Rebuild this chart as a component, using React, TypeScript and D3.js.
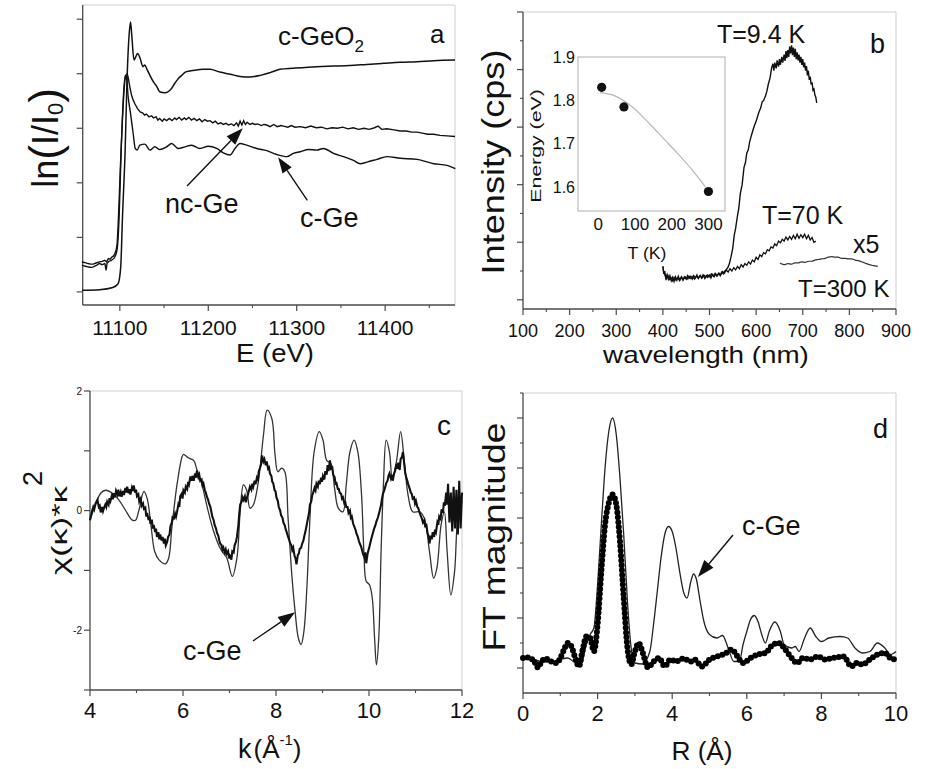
import React from 'react';
import * as d3 from 'd3';

const FONT = "'Liberation Sans', Arial, Helvetica, sans-serif";

// ---------------- Panel a: XANES ----------------
const aXMajor = [11100, 11200, 11300, 11400];
const aXMinor = [11150, 11250, 11350, 11450];
const aXLabels = ['11100', '11200', '11300', '11400'];
const aYMajor = [0, 1, 2, 3, 4, 5];

const geo2Xanes: [number, number][] = [
  [11057.3, 0.03], [11077, 0.04], [11092, 0.08], [11098, 0.15], [11101, 0.46], [11103, 1.38], [11106, 2.6],
  [11108, 3.82], [11110.6, 4.74], [11112.1, 4.95], [11113.6, 4.68], [11116, 4.25], [11118, 4.31], [11120, 4.37],
  [11123, 4.28], [11126, 4.13], [11128, 4.16], [11131, 4.07], [11134, 3.97], [11138, 3.85], [11142, 3.76],
  [11145, 3.67], [11151, 3.65], [11157, 3.7], [11162, 3.82], [11166, 3.91], [11170, 3.97], [11174, 4.03],
  [11179, 4.05], [11187, 4.07], [11194, 4.08], [11202, 4.08], [11213, 4.03], [11225, 3.99], [11236, 3.95],
  [11247, 3.94], [11259, 3.97], [11270, 4.02], [11281, 4.08], [11296, 4.1], [11323, 4.13], [11342, 4.14],
  [11360, 4.15], [11379, 4.17], [11398, 4.19], [11417, 4.21], [11436, 4.22], [11455, 4.24], [11479, 4.25],
];

const ncGeXanes: [number, number][] = [
  [11057, 0.55], [11060, 0.54], [11064, 0.52], [11067, 0.51], [11070, 0.51], [11073, 0.53], [11077, 0.55],
  [11080, 0.56], [11083, 0.58], [11085, 0.55], [11087, 0.61], [11089, 0.6], [11091, 0.64], [11093, 0.66],
  [11094.3, 0.7], [11096, 0.78], [11097, 0.89], [11098, 1.2], [11099.2, 1.68], [11100.5, 2.25], [11101.9, 2.78],
  [11103.2, 3.25], [11104.5, 3.64], [11105.7, 3.88], [11106.8, 3.97], [11108.3, 4.0], [11109.5, 3.93],
  [11110.6, 3.82], [11112, 3.7], [11113.2, 3.61], [11115, 3.52], [11117, 3.45], [11120, 3.36], [11123, 3.3],
  [11126, 3.28], [11128, 3.24], [11130, 3.26], [11133, 3.21], [11136, 3.23], [11138, 3.19], [11141, 3.21],
  [11143, 3.15], [11145, 3.18], [11148, 3.13], [11150, 3.17], [11153, 3.14], [11156, 3.18], [11159, 3.14],
  [11162, 3.19], [11164, 3.16], [11167, 3.2], [11170, 3.15], [11173, 3.19], [11175, 3.16], [11178, 3.2],
  [11181, 3.15], [11184, 3.18], [11187, 3.14], [11190, 3.17], [11193, 3.12], [11196, 3.16], [11199, 3.13],
  [11202, 3.14], [11205, 3.1], [11208, 3.13], [11211, 3.08], [11214, 3.1], [11217, 3.07], [11220, 3.09],
  [11223, 3.06], [11226, 3.08], [11229, 3.05], [11232, 3.1], [11234, 3.04], [11236, 3.13], [11238, 3.06],
  [11240, 3.14], [11242, 3.07], [11244, 3.11], [11247, 3.07], [11250, 3.09], [11253, 3.07], [11256, 3.08],
  [11260, 3.05], [11263, 3.07], [11266, 3.06], [11270, 3.03], [11274, 3.07], [11278, 3.03], [11282, 3.05],
  [11285, 3.04], [11290, 3.02], [11294, 3.05], [11298, 3.02], [11304, 3.03], [11310, 3.01], [11316, 3.04],
  [11322, 3.01], [11328, 3.02], [11334, 2.99], [11340, 3.01], [11346, 3.0], [11352, 3.02], [11358, 2.99],
  [11364, 3.01], [11370, 2.98], [11376, 3.0], [11382, 2.98], [11388, 3.01], [11392, 3.04], [11396, 2.98],
  [11402, 2.99], [11410, 2.97], [11417, 2.95], [11424, 2.95], [11430, 2.93], [11436, 2.93], [11442, 2.91],
  [11448, 2.89], [11455, 2.89], [11462, 2.87], [11470, 2.86], [11479, 2.85],
];

const cGeXanes: [number, number][] = [
  [11057, 0.49], [11061, 0.47], [11064, 0.46], [11067, 0.45], [11070, 0.46], [11074, 0.49], [11077, 0.52],
  [11080, 0.5], [11083, 0.52], [11084.5, 0.4], [11085.5, 0.52], [11087, 0.55], [11090.6, 0.58], [11094.3, 0.64],
  [11097, 0.79], [11099.2, 1.38], [11101.5, 2.6], [11103.8, 3.51], [11106, 3.97], [11107.5, 3.94],
  [11109.4, 3.58], [11112.1, 3.27], [11115.1, 2.9], [11117.4, 2.63], [11119.6, 2.6], [11122.6, 2.69],
  [11128.3, 2.71], [11134, 2.6], [11139.6, 2.66], [11145.3, 2.61], [11152.9, 2.66], [11158.5, 2.72],
  [11166.1, 2.63], [11173.6, 2.66], [11181.2, 2.69], [11190.6, 2.63], [11200, 2.67], [11209.5, 2.63],
  [11217, 2.55], [11224.6, 2.51], [11230.2, 2.63], [11235.9, 2.72], [11243.5, 2.69], [11254.8, 2.63],
  [11266.1, 2.59], [11277.4, 2.52], [11288.8, 2.48], [11296.3, 2.54], [11303.9, 2.57], [11313.3, 2.61],
  [11322.7, 2.6], [11330.3, 2.63], [11341.6, 2.54], [11352.9, 2.48], [11364.2, 2.41], [11371.8, 2.35],
  [11379.4, 2.38], [11390.7, 2.43], [11402, 2.48], [11417.1, 2.45], [11436, 2.43], [11454.9, 2.35],
  [11470, 2.32], [11479.4, 2.26],
];

// ---------------- Panel b: PL ----------------
const bXMajor = [100, 200, 300, 400, 500, 600, 700, 800, 900];
const bXMinor = [150, 250, 350, 450, 550, 650, 750, 850];
const bYMajor = [0, 1, 2, 3, 4, 5];
const bYMinor = [0.5, 1.5, 2.5, 3.5, 4.5];

const pl9K: [number, number][] = [
  [400, 0.58], [402, 0.45], [404, 0.5], [406, 0.38], [409, 0.44], [412, 0.36], [415, 0.42], [418, 0.33],
  [421, 0.39], [424, 0.32], [427, 0.4], [430, 0.34], [433, 0.41], [436, 0.35], [440, 0.4], [443, 0.34],
  [446, 0.4], [450, 0.36], [453, 0.42], [456, 0.37], [460, 0.41], [463, 0.36], [466, 0.42], [470, 0.38],
  [473, 0.43], [476, 0.37], [480, 0.42], [483, 0.38], [486, 0.43], [490, 0.37], [493, 0.42], [496, 0.39],
  [500, 0.43], [503, 0.38], [506, 0.44], [510, 0.4], [513, 0.45], [516, 0.41], [520, 0.46], [523, 0.42],
  [526, 0.48], [530, 0.45], [533, 0.5], [536, 0.52], [540, 0.57], [543, 0.64], [546, 0.74], [550, 0.9],
  [553, 1.12], [556, 1.24], [560, 1.46], [563, 1.6], [566, 1.84], [570, 2.0], [574, 2.3], [577, 2.38],
  [580, 2.55], [583, 2.6], [586, 2.74], [590, 2.86], [593, 2.94], [596, 3.02], [600, 3.1], [603, 3.18],
  [606, 3.26], [610, 3.34], [613, 3.44], [616, 3.46], [620, 3.54], [623, 3.62], [626, 3.74], [630, 3.86],
  [633, 4.02], [636, 4.1], [638, 3.98], [640, 4.12], [643, 4.02], [645, 4.16], [648, 4.05], [650, 4.18],
  [652, 4.08], [655, 4.22], [657, 4.12], [660, 4.26], [662, 4.15], [664, 4.32], [666, 4.2], [668, 4.34],
  [670, 4.22], [672, 4.4], [674, 4.28], [676, 4.42], [678, 4.25], [680, 4.38], [682, 4.22], [684, 4.36],
  [686, 4.18], [688, 4.3], [690, 4.16], [692, 4.26], [694, 4.12], [696, 4.22], [698, 4.08], [700, 4.18],
  [702, 4.04], [704, 4.12], [706, 3.98], [708, 4.06], [710, 3.9], [712, 3.98], [714, 3.82], [716, 3.88],
  [718, 3.74], [720, 3.78], [722, 3.64], [724, 3.66], [726, 3.56], [728, 3.52], [730, 3.42],
];

const pl70K: [number, number][] = [
  [400, 0.58], [402, 0.47], [405, 0.42], [408, 0.36], [411, 0.42], [414, 0.35], [418, 0.38], [421, 0.33],
  [424, 0.39], [428, 0.34], [432, 0.38], [436, 0.33], [440, 0.39], [444, 0.35], [448, 0.4], [452, 0.36],
  [456, 0.41], [460, 0.37], [464, 0.4], [468, 0.36], [472, 0.41], [476, 0.38], [480, 0.42], [484, 0.38],
  [488, 0.43], [492, 0.39], [496, 0.43], [500, 0.4], [504, 0.45], [508, 0.41], [512, 0.46], [516, 0.42],
  [520, 0.46], [524, 0.43], [528, 0.49], [532, 0.46], [536, 0.52], [540, 0.48], [544, 0.54], [548, 0.5],
  [552, 0.56], [556, 0.52], [560, 0.58], [564, 0.54], [568, 0.61], [572, 0.57], [576, 0.63], [580, 0.6],
  [584, 0.66], [588, 0.62], [592, 0.69], [596, 0.66], [600, 0.74], [604, 0.7], [608, 0.78], [612, 0.75],
  [616, 0.82], [620, 0.8], [624, 0.87], [628, 0.85], [632, 0.92], [636, 0.9], [640, 0.97], [644, 0.94],
  [648, 1.02], [652, 0.99], [656, 1.05], [660, 1.02], [664, 1.09], [668, 1.04], [672, 1.1], [676, 1.05],
  [680, 1.12], [684, 1.06], [688, 1.14], [692, 1.07], [696, 1.13], [700, 1.08], [704, 1.14], [708, 1.06],
  [712, 1.12], [716, 1.04], [720, 1.08], [724, 1.0], [728, 1.02],
];

const pl300K: [number, number][] = [
  [651, 0.64], [656, 0.62], [662, 0.61], [668, 0.63], [676, 0.62], [683, 0.64], [690, 0.64], [697, 0.66],
  [705, 0.65], [712, 0.67], [719, 0.67], [726, 0.69], [733, 0.7], [740, 0.71], [748, 0.72], [755, 0.74],
  [762, 0.75], [769, 0.74], [776, 0.74], [783, 0.72], [791, 0.72], [798, 0.71], [805, 0.71], [812, 0.69],
  [819, 0.68], [826, 0.66], [833, 0.64], [840, 0.62], [848, 0.6], [855, 0.59], [861, 0.58],
];

// inset: PL peak energy vs T
const insetT = [9.4, 70, 300];
const insetE = [1.83, 1.785, 1.59];
const fitT = [5, 40, 82, 141, 180, 218, 260, 292];
const fitE = [1.818, 1.812, 1.792, 1.745, 1.71, 1.676, 1.635, 1.6];
const insetXTicks = [0, 100, 200, 300];
const insetYTicks = [1.6, 1.7, 1.8, 1.9];

// ---------------- Panel c: EXAFS chi(k)k^2 ----------------
const cXMajor = [4, 6, 8, 10, 12];
const cXMinor = [5, 7, 9, 11];
const cYTicks = [-3, -2, -1, 0, 1, 2];
const cYLabels: [number, string][] = [[2, '2'], [0, '0'], [-2, '-2']];

const chiCGe: [number, number][] = [
  [4.0, -0.16], [4.09, 0.04], [4.23, 0.29], [4.34, 0.34], [4.48, 0.29], [4.62, 0.18], [4.76, 0.01], [4.91, -0.16],
  [4.98, -0.16], [5.05, 0.0], [5.16, 0.32], [5.23, 0.2], [5.31, -0.24], [5.39, -0.68], [5.48, -0.82], [5.62, -0.89],
  [5.69, -0.8], [5.76, -0.29], [5.87, 0.43], [5.98, 0.9], [6.01, 0.94], [6.12, 0.88], [6.23, 0.84], [6.3, 0.68],
  [6.41, 0.43], [6.51, 0.09], [6.66, -0.35], [6.8, -0.63], [6.94, -0.79], [7.06, -1.1], [7.16, -0.79], [7.23, -0.02],
  [7.3, 0.43], [7.37, 0.34], [7.44, 0.04], [7.51, 0.09], [7.62, 0.48], [7.73, 1.26], [7.81, 1.68], [7.91, 1.54],
  [7.98, 0.93], [8.04, 0.65], [8.12, 0.71], [8.19, 0.65], [8.26, -0.13], [8.34, -1.07], [8.41, -1.68], [8.48, -2.13],
  [8.54, -2.24], [8.6, -2.02], [8.66, -1.35], [8.73, -0.13], [8.82, 0.98], [8.93, 1.32], [9.01, 1.18], [9.09, 0.84],
  [9.18, 0.79], [9.26, 0.37], [9.34, 0.04], [9.44, -0.02], [9.51, 0.43], [9.59, 0.98], [9.68, 1.18], [9.76, 0.98],
  [9.84, 0.26], [9.89, -0.68], [9.94, -1.18], [10.01, -1.24], [10.07, -1.46], [10.12, -2.13], [10.16, -2.58],
  [10.21, -2.13], [10.26, -0.68], [10.31, 0.43], [10.37, 1.18], [10.44, 0.98], [10.5, 0.54], [10.59, 0.82],
  [10.68, 1.32], [10.76, 0.82], [10.84, 0.26], [10.94, -0.02], [11.09, -0.02], [11.19, -0.13], [11.3, -0.68],
  [11.39, -1.13], [11.46, -0.96], [11.55, -0.24], [11.62, -0.02], [11.68, -0.68], [11.76, -1.41], [11.84, -1.02],
  [11.91, -0.13], [12.0, 0.15],
];

const chiNcGe: [number, number][] = [
  [4.0, -0.16], [4.04, -0.02], [4.07, 0.06], [4.09, 0.02], [4.12, 0.12], [4.16, 0.18], [4.19, 0.06], [4.21, 0.08],
  [4.23, -0.03], [4.26, 0.06], [4.28, -0.01], [4.3, 0.04], [4.33, 0.1], [4.35, 0.06], [4.37, 0.15], [4.4, 0.1],
  [4.42, 0.21], [4.44, 0.16], [4.47, 0.25], [4.49, 0.19], [4.51, 0.29], [4.54, 0.22], [4.56, 0.33], [4.59, 0.27],
  [4.61, 0.35], [4.63, 0.24], [4.66, 0.31], [4.68, 0.23], [4.71, 0.33], [4.73, 0.26], [4.76, 0.38], [4.78, 0.3],
  [4.8, 0.4], [4.83, 0.29], [4.85, 0.36], [4.87, 0.27], [4.9, 0.38], [4.92, 0.33], [4.94, 0.42], [4.97, 0.3],
  [4.99, 0.35], [5.01, 0.24], [5.04, 0.27], [5.06, 0.15], [5.09, 0.2], [5.11, 0.08], [5.14, 0.12], [5.16, 0.03],
  [5.19, 0.05], [5.21, -0.1], [5.23, -0.04], [5.26, -0.16], [5.28, -0.1], [5.3, -0.22], [5.33, -0.15], [5.35, -0.3],
  [5.37, -0.24], [5.4, -0.36], [5.42, -0.3], [5.44, -0.44], [5.47, -0.36], [5.49, -0.48], [5.51, -0.4], [5.54, -0.5],
  [5.56, -0.44], [5.59, -0.55], [5.61, -0.47], [5.63, -0.58], [5.66, -0.52], [5.68, -0.44], [5.71, -0.4],
  [5.73, -0.26], [5.76, -0.2], [5.78, -0.09], [5.8, -0.15], [5.83, -0.05], [5.85, -0.1], [5.87, -0.03], [5.9, 0.1],
  [5.92, 0.06], [5.94, 0.24], [5.97, 0.28], [5.99, 0.2], [6.01, 0.34], [6.04, 0.3], [6.06, 0.4], [6.09, 0.36],
  [6.11, 0.48], [6.13, 0.44], [6.16, 0.57], [6.18, 0.5], [6.21, 0.58], [6.23, 0.5], [6.26, 0.62], [6.28, 0.55],
  [6.3, 0.67], [6.33, 0.56], [6.35, 0.6], [6.37, 0.5], [6.4, 0.52], [6.42, 0.42], [6.44, 0.45], [6.47, 0.34],
  [6.49, 0.3], [6.51, 0.24], [6.54, 0.18], [6.56, 0.12], [6.59, 0.06], [6.61, -0.02], [6.63, -0.1], [6.66, -0.16],
  [6.68, -0.24], [6.71, -0.3], [6.73, -0.37], [6.76, -0.42], [6.78, -0.5], [6.8, -0.55], [6.83, -0.58],
  [6.85, -0.66], [6.87, -0.62], [6.9, -0.7], [6.92, -0.65], [6.94, -0.72], [6.97, -0.68], [6.99, -0.8],
  [7.01, -0.76], [7.04, -0.82], [7.06, -0.68], [7.09, -0.7], [7.11, -0.58], [7.14, -0.52], [7.16, -0.44],
  [7.19, -0.25], [7.21, -0.05], [7.23, 0.1], [7.26, 0.15], [7.28, 0.22], [7.3, 0.18], [7.33, 0.24], [7.35, 0.14],
  [7.37, 0.2], [7.4, 0.28], [7.42, 0.34], [7.44, 0.4], [7.47, 0.35], [7.49, 0.45], [7.51, 0.4], [7.54, 0.5],
  [7.56, 0.44], [7.59, 0.55], [7.61, 0.52], [7.63, 0.66], [7.66, 0.72], [7.68, 0.78], [7.7, 0.92], [7.73, 0.82],
  [7.75, 0.86], [7.78, 0.76], [7.8, 0.82], [7.83, 0.7], [7.85, 0.72], [7.87, 0.62], [7.9, 0.58], [7.92, 0.48],
  [7.94, 0.46], [7.97, 0.34], [7.99, 0.32], [8.01, 0.22], [8.04, 0.16], [8.06, 0.06], [8.09, 0.0], [8.11, -0.08],
  [8.14, -0.12], [8.16, -0.2], [8.19, -0.25], [8.21, -0.32], [8.23, -0.36], [8.26, -0.44], [8.28, -0.48],
  [8.3, -0.54], [8.33, -0.58], [8.35, -0.66], [8.37, -0.62], [8.4, -0.76], [8.42, -0.8], [8.44, -0.9],
  [8.47, -0.74], [8.49, -0.72], [8.51, -0.64], [8.54, -0.62], [8.56, -0.56], [8.59, -0.5], [8.61, -0.42],
  [8.63, -0.36], [8.66, -0.24], [8.68, -0.16], [8.71, -0.04], [8.73, 0.1], [8.76, 0.16], [8.78, 0.26], [8.8, 0.3],
  [8.83, 0.38], [8.85, 0.34], [8.87, 0.45], [8.9, 0.4], [8.92, 0.5], [8.94, 0.44], [8.97, 0.55], [8.99, 0.48],
  [9.01, 0.58], [9.04, 0.52], [9.06, 0.66], [9.09, 0.6], [9.11, 0.76], [9.13, 0.66], [9.16, 0.84], [9.18, 0.7],
  [9.21, 0.72], [9.23, 0.6], [9.26, 0.56], [9.28, 0.45], [9.3, 0.46], [9.33, 0.36], [9.35, 0.36], [9.37, 0.3],
  [9.4, 0.28], [9.42, 0.2], [9.44, 0.22], [9.47, 0.12], [9.49, 0.14], [9.51, 0.06], [9.54, 0.06], [9.56, -0.04],
  [9.59, 0.0], [9.61, -0.12], [9.63, -0.1], [9.66, -0.22], [9.68, -0.26], [9.71, -0.32], [9.73, -0.38],
  [9.76, -0.44], [9.78, -0.5], [9.8, -0.55], [9.83, -0.6], [9.85, -0.66], [9.87, -0.72], [9.9, -0.78], [9.92, -0.7],
  [9.94, -0.88], [9.97, -0.72], [9.99, -0.66], [10.01, -0.6], [10.04, -0.5], [10.06, -0.44], [10.09, -0.36],
  [10.11, -0.3], [10.14, -0.24], [10.16, -0.18], [10.19, -0.12], [10.21, -0.06], [10.23, 0.0], [10.26, 0.1],
  [10.28, 0.2], [10.3, 0.28], [10.33, 0.34], [10.35, 0.4], [10.37, 0.46], [10.4, 0.5], [10.42, 0.58], [10.44, 0.62],
  [10.47, 0.54], [10.49, 0.6], [10.51, 0.5], [10.54, 0.62], [10.56, 0.66], [10.59, 0.78], [10.61, 0.7], [10.63, 0.8],
  [10.66, 0.68], [10.68, 0.86], [10.71, 0.9], [10.73, 0.98], [10.76, 0.76], [10.78, 0.62], [10.8, 0.56],
  [10.83, 0.48], [10.85, 0.42], [10.87, 0.38], [10.9, 0.3], [10.92, 0.28], [10.94, 0.2], [10.97, 0.22], [10.99, 0.12],
  [11.01, 0.16], [11.04, 0.06], [11.06, 0.04], [11.09, -0.04], [11.11, -0.08], [11.14, -0.14], [11.16, -0.2],
  [11.19, -0.16], [11.21, -0.28], [11.23, -0.22], [11.26, -0.38], [11.28, -0.42], [11.3, -0.55], [11.33, -0.42],
  [11.35, -0.48], [11.37, -0.36], [11.4, -0.44], [11.42, -0.32], [11.44, -0.36], [11.47, -0.2], [11.49, -0.24],
  [11.51, -0.1], [11.54, -0.14], [11.56, 0.02], [11.59, -0.04], [11.61, 0.14], [11.63, 0.08], [11.66, 0.3],
  [11.68, 0.1], [11.7, 0.45], [11.73, -0.2], [11.76, 0.3], [11.79, -0.35], [11.82, 0.4], [11.85, -0.3], [11.88, 0.35],
  [11.91, -0.4], [11.94, 0.5], [11.97, -0.3], [12.0, 0.3],
];

// ---------------- Panel d: FT magnitude ----------------
const dXMajor = [0, 2, 4, 6, 8, 10];
const dXMinor = [1, 3, 5, 7, 9];
const dYMajor = [0, 1, 2, 3, 4, 5];
const dYMinor = [0.5, 1.5, 2.5, 3.5, 4.5, 5.5];

const ftCGe: [number, number][] = [
  [0, 0.2], [0.3, 0.17], [0.5, 0.13], [0.8, 0.12], [1.0, 0.17], [1.2, 0.2], [1.4, 0.1], [1.55, 0.07], [1.7, 0.47],
  [1.8, 0.67], [1.9, 0.8], [2.0, 1.67], [2.1, 2.87], [2.2, 4.0], [2.3, 4.73], [2.4, 5.0], [2.5, 4.67], [2.6, 3.8],
  [2.7, 2.67], [2.8, 1.33], [2.9, 0.4], [3.0, 0.1], [3.2, 0.08], [3.4, 0.33], [3.5, 0.87], [3.6, 1.53], [3.7, 2.2],
  [3.8, 2.67], [3.9, 2.83], [4.0, 2.73], [4.1, 2.4], [4.2, 1.93], [4.3, 1.53], [4.4, 1.4], [4.5, 1.73], [4.57, 1.88],
  [4.65, 1.77], [4.75, 1.33], [4.85, 0.93], [5.0, 0.67], [5.2, 0.6], [5.35, 0.65], [5.5, 0.4], [5.65, 0.13],
  [5.8, 0.13], [5.9, 0.47], [6.0, 0.73], [6.1, 0.97], [6.2, 1.05], [6.3, 0.93], [6.4, 0.67], [6.5, 0.5], [6.6, 0.73],
  [6.75, 0.92], [6.9, 0.73], [7.0, 0.47], [7.2, 0.4], [7.3, 0.43], [7.4, 0.33], [7.55, 0.6], [7.7, 0.8], [7.85, 0.63],
  [8.0, 0.53], [8.2, 0.6], [8.5, 0.63], [8.7, 0.6], [8.9, 0.4], [9.1, 0.3], [9.3, 0.33], [9.5, 0.5], [9.7, 0.4],
  [9.85, 0.27], [10.0, 0.33],
];

const ftNcGe: [number, number][] = [
  [0, 0.2], [0.15, 0.21], [0.3, 0.13], [0.4, 0.01], [0.5, 0.13], [0.6, 0.19], [0.75, 0.13], [0.9, 0.1], [1.0, 0.2],
  [1.1, 0.37], [1.2, 0.5], [1.3, 0.43], [1.4, 0.2], [1.5, 0.03], [1.6, 0.37], [1.7, 0.63], [1.8, 0.6], [1.9, 0.33],
  [2.0, 0.87], [2.1, 1.93], [2.2, 2.87], [2.3, 3.3], [2.4, 3.47], [2.5, 3.27], [2.6, 2.53], [2.7, 1.4], [2.8, 0.4],
  [2.9, 0.07], [3.0, 0.33], [3.1, 0.5], [3.2, 0.33], [3.35, 0.01], [3.5, 0.13], [3.65, 0.2], [3.8, 0.03],
  [3.95, 0.17], [4.1, 0.13], [4.3, 0.19], [4.5, 0.13], [4.6, 0.17], [4.8, 0.03], [5.0, 0.17], [5.2, 0.23],
  [5.4, 0.28], [5.6, 0.37], [5.75, 0.23], [5.9, 0.1], [6.1, 0.2], [6.3, 0.27], [6.5, 0.3], [6.7, 0.47], [6.85, 0.5],
  [7.0, 0.4], [7.2, 0.2], [7.35, 0.1], [7.5, 0.2], [7.7, 0.17], [7.9, 0.23], [8.1, 0.17], [8.3, 0.2], [8.6, 0.23],
  [8.8, 0.03], [8.95, 0.1], [9.1, 0.07], [9.3, 0.17], [9.5, 0.27], [9.7, 0.3], [9.85, 0.2], [10.0, 0.17],
];

// ---------------- helpers ----------------
type TP = {
  x: number; y: number; size: number; anchor?: 'start' | 'middle' | 'end';
  sx?: number; rot?: number; children?: React.ReactNode; fill?: string;
};
function T({ x, y, size, anchor = 'start', sx = 1, rot = 0, children, fill = '#111' }: TP) {
  return (
    <text
      transform={`translate(${x},${y}) rotate(${rot}) scale(${sx},1)`}
      fontSize={size}
      textAnchor={anchor}
      fontFamily={FONT}
      fill={fill}
    >
      {children}
    </text>
  );
}

type Lin = d3.ScaleLinear<number, number>;

function Axes(props: {
  xs: Lin; ys: Lin;
  xMajor: number[]; xMinor?: number[]; yMajor: number[]; yMinor?: number[];
  xLabels?: [number, string][]; xFont?: number; xLabelY?: number; xSx?: number;
  yLabels?: [number, string][]; yFont?: number; yLabelX?: number;
  majorLen?: number; minorLen?: number;
}) {
  const { xs, ys, xMajor, xMinor = [], yMajor, yMinor = [], xLabels = [], yLabels = [] } = props;
  const ml = props.majorLen ?? 6;
  const nl = props.minorLen ?? 3;
  const [x0, x1] = xs.range();
  const [y0, y1] = ys.range();
  const ax = '#4a4a4a';
  return (
    <g>
      <line x1={x0} y1={y1} x2={x1} y2={y1} stroke="#cfcfcf" strokeWidth={1} />
      <line x1={x1} y1={y1} x2={x1} y2={y0} stroke="#cfcfcf" strokeWidth={1} />
      <line x1={x0} y1={y0} x2={x0} y2={y1} stroke={ax} strokeWidth={1.3} />
      <line x1={x0} y1={y0} x2={x1} y2={y0} stroke={ax} strokeWidth={1.3} />
      {xMajor.map((v) => (
        <line key={'xm' + v} x1={xs(v)} x2={xs(v)} y1={y0} y2={y0 + ml} stroke={ax} strokeWidth={1.2} />
      ))}
      {xMinor.map((v) => (
        <line key={'xn' + v} x1={xs(v)} x2={xs(v)} y1={y0} y2={y0 + nl} stroke={ax} strokeWidth={1.1} />
      ))}
      {yMajor.map((v) => (
        <line key={'ym' + v} x1={x0 - ml} x2={x0} y1={ys(v)} y2={ys(v)} stroke={ax} strokeWidth={1.2} />
      ))}
      {yMinor.map((v) => (
        <line key={'yn' + v} x1={x0 - nl} x2={x0} y1={ys(v)} y2={ys(v)} stroke={ax} strokeWidth={1.1} />
      ))}
      {xLabels.map(([v, s]) => (
        <T key={'xl' + v} x={xs(v)} y={props.xLabelY ?? y0 + 26} size={props.xFont ?? 20} anchor="middle" sx={props.xSx ?? 1}>
          {s}
        </T>
      ))}
      {yLabels.map(([v, s]) => (
        <T key={'yl' + v} x={props.yLabelX ?? x0 - 8} y={ys(v) + (props.yFont ?? 10) * 0.36} size={props.yFont ?? 10} anchor="end">
          {s}
        </T>
      ))}
    </g>
  );
}

function Arrow({ from, to, len = 16, width = 11 }: { from: [number, number]; to: [number, number]; len?: number; width?: number }) {
  const [fx, fy] = from;
  const [tx, ty] = to;
  const dx = tx - fx;
  const dy = ty - fy;
  const d = Math.hypot(dx, dy);
  const ux = dx / d;
  const uy = dy / d;
  const bx = tx - ux * len;
  const by = ty - uy * len;
  const px = -uy * width / 2;
  const py = ux * width / 2;
  return (
    <g>
      <line x1={fx} y1={fy} x2={bx} y2={by} stroke="#111" strokeWidth={1.4} />
      <polygon points={`${tx},${ty} ${bx + px},${by + py} ${bx - px},${by - py}`} fill="#111" />
    </g>
  );
}

function pathOf(data: [number, number][], xs: Lin, ys: Lin, curve: d3.CurveFactory = d3.curveLinear) {
  return d3.line<[number, number]>().x((d) => xs(d[0])).y((d) => ys(d[1])).curve(curve)(data) || '';
}

export default function App() {
  // panel a scales
  const axs = d3.scaleLinear().domain([11058, 11479]).range([82.7, 455]);
  const ays = d3.scaleLinear().domain([-0.24, 5.26]).range([305, 5]);
  // panel b
  const bxs = d3.scaleLinear().domain([100, 900]).range([523, 896]);
  const bys = d3.scaleLinear().domain([-0.16, 5]).range([309, 12]);
  const ixs = d3.scaleLinear().domain([-55, 345]).range([578, 725]);
  const iys = d3.scaleLinear().domain([1.545, 1.9]).range([211, 57]);
  // panel c
  const cxs = d3.scaleLinear().domain([4, 12]).range([90, 462]);
  const cys = d3.scaleLinear().domain([-3, 2]).range([690, 391]);
  // panel d
  const dxs = d3.scaleLinear().domain([0, 10]).range([523, 896]);
  const dys = d3.scaleLinear().domain([-0.5, 5.5]).range([693, 393]);

  const mono = d3.curveMonotoneX;
  const cr = d3.curveCatmullRom.alpha(0.5);

  const fitData: [number, number][] = fitT.map((t, i) => [t, fitE[i]]);

  return (
    <svg width={930} height={769} style={{ position: 'absolute', left: 0, top: 0, background: '#fff' }}>
      <rect x={0} y={0} width={930} height={769} fill="#fff" />

      {/* ---------- Panel a ---------- */}
      <Axes
        xs={axs} ys={ays}
        xMajor={aXMajor} xMinor={aXMinor} yMajor={aYMajor}
        xLabels={aXMajor.map((v, i) => [v, aXLabels[i]] as [number, string])}
        xFont={21} xLabelY={335}
        majorLen={6} minorLen={3}
      />
      <path d={pathOf(geo2Xanes, axs, ays, mono)} fill="none" stroke="#111" strokeWidth={1.5} />
      <path d={pathOf(ncGeXanes, axs, ays, d3.curveLinear)} fill="none" stroke="#111" strokeWidth={1.4} />
      <path d={pathOf(cGeXanes, axs, ays, mono)} fill="none" stroke="#111" strokeWidth={1.4} />
      <T x={278} y={45} size={26}>
        c-GeO<tspan fontSize={17} dy={7}>2</tspan>
      </T>
      <T x={430} y={43} size={26}>a</T>
      <T x={165} y={213} size={27}>nc-Ge</T>
      <T x={300} y={227} size={27}>c-Ge</T>
      <Arrow from={[axs(11176), ays(1.94)]} to={[axs(11239), ays(3.0)]} len={17} width={12} />
      <Arrow from={[axs(11312), ays(1.68)]} to={[axs(11279), ays(2.47)]} len={16} width={11} />
      <T x={275} y={362} size={25} anchor="middle" sx={1.1}>E (eV)</T>
      <T x={58} y={138} size={36} anchor="middle" rot={-90}>
        ln<tspan fontSize={44} dy={2}>(</tspan><tspan fontSize={36} dy={-2}>I/I</tspan>
        <tspan fontSize={22} dy={5}>0</tspan><tspan fontSize={44} dy={-3}>)</tspan>
      </T>

      {/* ---------- Panel b ---------- */}
      <Axes
        xs={bxs} ys={bys}
        xMajor={bXMajor} xMinor={bXMinor} yMajor={bYMajor} yMinor={bYMinor}
        xLabels={bXMajor.map((v) => [v, String(v)] as [number, string])}
        xFont={18} xLabelY={337}
        majorLen={6} minorLen={3}
      />
      <path d={pathOf(pl9K, bxs, bys)} fill="none" stroke="#111" strokeWidth={1.4} />
      <path d={pathOf(pl70K, bxs, bys)} fill="none" stroke="#111" strokeWidth={1.3} />
      <path d={pathOf(pl300K, bxs, bys, mono)} fill="none" stroke="#333" strokeWidth={1.2} />
      <T x={717} y={43} size={25}>T=9.4 K</T>
      <T x={870} y={53} size={27}>b</T>
      <T x={762} y={224} size={25}>T=70 K</T>
      <T x={853} y={253} size={25}>x5</T>
      <T x={798} y={297} size={24}>T=300 K</T>
      <T x={504} y={162} size={32} anchor="middle" rot={-90} sx={1.13}>Intensity (cps)</T>
      <T x={706} y={363} size={24} anchor="middle" sx={1.16}>wavelength (nm)</T>

      {/* inset */}
      <rect x={578} y={57} width={147} height={154} fill="#fff" stroke="#b0b0b0" strokeWidth={1} />
      <path d={pathOf(fitData, ixs, iys, mono)} fill="none" stroke="#b8b8b8" strokeWidth={1.2} />
      {insetT.map((t, i) => (
        <circle key={'ip' + t} cx={ixs(t)} cy={iys(insetE[i])} r={4.6} fill="#111" />
      ))}
      {insetYTicks.map((v) => (
        <T key={'iy' + v} x={575} y={iys(v) + 5.5} size={16} anchor="end">{v.toFixed(1)}</T>
      ))}
      {insetXTicks.map((v) => (
        <T key={'ix' + v} x={ixs(v)} y={230} size={17} anchor="middle">{String(v)}</T>
      ))}
      <T x={647} y={259} size={16.5} anchor="middle" sx={1.07}>T (K)</T>
      <T x={541} y={146} size={15} anchor="middle" rot={-90} sx={1.42}>Energy (eV)</T>

      {/* ---------- Panel c ---------- */}
      <Axes
        xs={cxs} ys={cys}
        xMajor={cXMajor} xMinor={cXMinor} yMajor={cYTicks}
        xLabels={cXMajor.map((v) => [v, String(v)] as [number, string])}
        xFont={22} xLabelY={718}
        yLabels={cYLabels} yFont={10} yLabelX={82}
        majorLen={6} minorLen={3}
      />
      <path d={pathOf(chiCGe, cxs, cys, cr)} fill="none" stroke="#333" strokeWidth={1.3} />
      <path d={pathOf(chiNcGe, cxs, cys)} fill="none" stroke="#111" strokeWidth={2.1} />
      <T x={437} y={435} size={28}>c</T>
      <T x={183} y={660} size={27}>c-Ge</T>
      <Arrow from={[cxs(7.505), cys(-2.18)]} to={[cxs(8.41), cys(-1.7)]} len={17} width={12} />
      <T x={238} y={758} size={27}>
        k<tspan fontSize={26} dx={2}>(Å</tspan><tspan fontSize={15} dy={-13}>-1</tspan><tspan fontSize={26} dy={13}>)</tspan>
      </T>
      <T x={67} y={575} size={22} rot={-90} sx={1.57}>χ(κ)*κ</T>
      <T x={42} y={486} size={27} rot={-90}>2</T>

      {/* ---------- Panel d ---------- */}
      <Axes
        xs={dxs} ys={dys}
        xMajor={dXMajor} xMinor={dXMinor} yMajor={dYMajor} yMinor={dYMinor}
        xLabels={dXMajor.map((v) => [v, String(v)] as [number, string])}
        xFont={22} xLabelY={721}
        majorLen={6} minorLen={3}
      />
      <path d={pathOf(ftCGe, dxs, dys, mono)} fill="none" stroke="#222" strokeWidth={1.3} />
      <path
        d={pathOf(ftNcGe, dxs, dys, mono)}
        fill="none" stroke="#000" strokeWidth={6} strokeDasharray="0 4.8" strokeLinecap="round"
      />
      <T x={873} y={438} size={27}>d</T>
      <T x={742} y={535} size={27}>c-Ge</T>
      <Arrow from={[dxs(5.63), dys(2.66)]} to={[dxs(4.69), dys(1.82)]} len={17} width={12} />
      <T x={505} y={537} size={31} anchor="middle" rot={-90} sx={1.2}>FT magnitude</T>
      <T x={702} y={760} size={25} anchor="middle" sx={1.05}>R (Å)</T>
    </svg>
  );
}
